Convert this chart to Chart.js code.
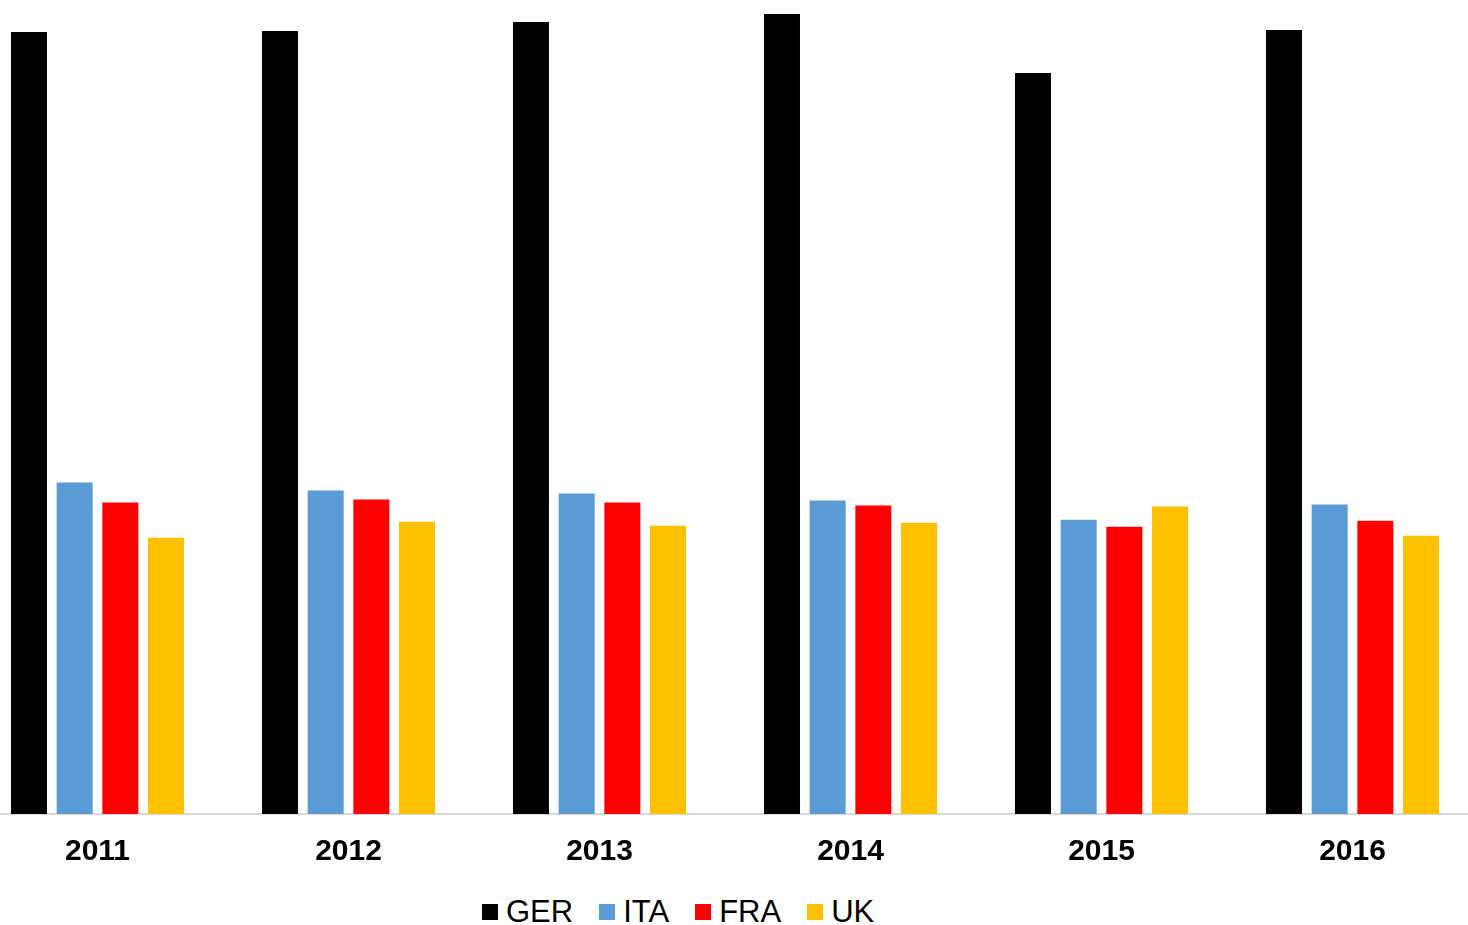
<!DOCTYPE html>
<html lang=en>

<head>
    <meta charset=UTF-8>
    <title>Chart</title>
    <style>
        * {
            margin: 0;
            padding: 0;
        }

        body {
            background: #fff;
            width: 1468px;
            height: 925px;
            overflow: hidden;
            position: relative;
            font-family: "Liberation Sans", Arial, sans-serif;
        }

        .wrap {
            position: absolute;
            left: -28px;
            top: 0;
            width: 1506px;
            height: 890px;
        }

        #legend {
            position: absolute;
            top: 894px;
            left: 469px;
            display: flex;
            font-size: 31px;
            color: #000;
        }

        .item {
            display: flex;
            align-items: center;
            margin: 0 13px;
        }

        .box {
            width: 16px;
            height: 16px;
            margin-right: 8px;
        }
    </style>
</head>

<body>
    <div class=wrap>
        <canvas id="myChart"></canvas>
    </div>
    <div id="legend"></div>
    <script src="https://cdn.jsdelivr.net/npm/chart.js"></script>
    <script>
        const years = ['2011', '2012', '2013', '2014', '2015', '2016']
        const ger = [781, 782, 791, 799, 740, 783]
        const ita = [331, 323, 320, 313, 294, 309]
        const fra = [311, 314, 311, 308, 287, 293]
        const uk = [276, 292, 288, 291, 307, 278]
        const names = ['GER', 'ITA', 'FRA', 'UK']
        const colors = ['#000000', '#5b9bd5', '#ff0000', '#ffc000']

        const series = [ger, ita, fra, uk]
        const datasets = series.map((d, i) => ({
            label: names[i],
            data: d,
            backgroundColor: colors[i],
            borderWidth: 0,
            categoryPercentage: 0.728,
            barPercentage: 0.788
        }))

        const ctx = document.getElementById('myChart');
        const chart = new Chart(ctx, {
            type: 'bar',
            data: { labels: years, datasets },
            options: {
                responsive: true,
                maintainAspectRatio: false,
                animation: false,
                layout: { padding: 0 },
                plugins: {
                    legend: { display: false },
                    tooltip: { enabled: false }
                },
                scales: {
                    x: {
                        grid: { display: false, drawTicks: false },
                        border: { display: true, color: '#d9d9d9', width: 2 },
                        ticks: {
                            color: '#000',
                            padding: 20,
                            font: { family: '"Liberation Sans", Arial', size: 30, weight: 'bold' }
                        }
                    },
                    y: {
                        display: false,
                        min: 0,
                        max: 813
                    }
                }
            }
        });

        // legend
        const lg = document.getElementById('legend')
        names.forEach((n, i) => {
            const it = document.createElement('div')
            it.className = 'item'
            it.innerHTML = `<span class="box" style="background:${colors[i]}"></span><span>${n}</span>`
            lg.appendChild(it)
        })
    </script>
</body>

</html>
